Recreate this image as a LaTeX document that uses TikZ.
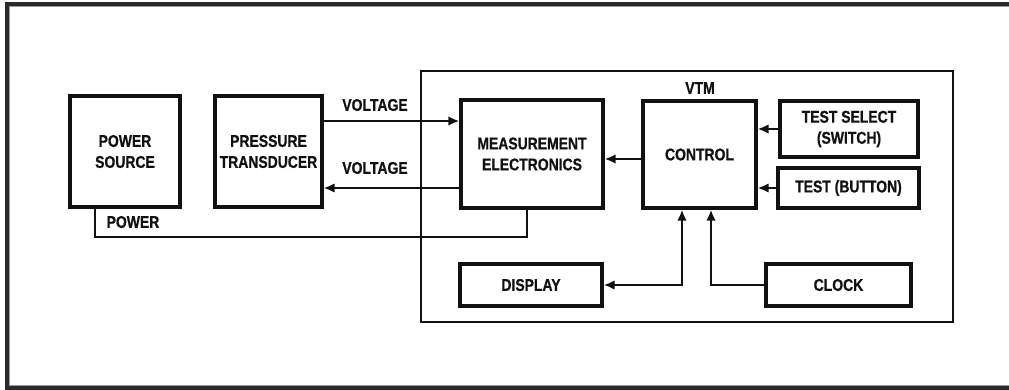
\documentclass[tikz,border=0pt]{standalone}
\usepackage{fontspec}
\setmainfont{Liberation Sans}[FakeStretch=0.82,BoldFeatures={FakeBold=0.7}]
\usetikzlibrary{arrows.meta}
\newcommand\dlabelfont{\fontsize{17}{21}\selectfont\bfseries}
\definecolor{framedark}{HTML}{2A2A2A}
\definecolor{framelight}{HTML}{9A9A9A}
\definecolor{ink}{HTML}{111111}
\begin{document}
\begin{tikzpicture}[x=1pt,y=-1pt,
  box/.style={draw=ink, line width=3.2pt, inner sep=0pt, align=center, font=\dlabelfont, text=ink},
  lbl/.style={inner sep=0pt, font=\dlabelfont, text=ink},
  wire/.style={draw=ink, line width=2.3pt},
  arr/.style={wire, -{Latex[length=11pt,width=9.5pt]}},
  arrboth/.style={wire, {Latex[length=11pt,width=9.5pt]}-{Latex[length=11pt,width=9.5pt]}}]
\useasboundingbox (0,0) rectangle (1009,389);
% outer frame
\draw[framelight, line width=1pt] (1012,6.5) -- (9.5,6.5) -- (9.5,385) -- (1012,385);
\draw[framedark, line width=4pt] (1012,4) -- (7,4) -- (7,387.5) -- (1012,387.5);
% VTM enclosure
\node[draw=ink, line width=2.2pt, minimum width=532pt, minimum height=251pt, inner sep=0pt] (vtm) at (687,196.5) {};
\node[lbl] (vtmlabel) at (700,88) {VTM};
% blocks
\node[box, minimum width=110pt, minimum height=111pt] (ps) at (125,151.5) {POWER\\SOURCE};
\node[box, minimum width=107pt, minimum height=111pt] (pt) at (268.5,151.5) {PRESSURE\\TRANSDUCER};
\node[box, minimum width=142pt, minimum height=108pt] (me) at (532,154) {MEASUREMENT\\ELECTRONICS};
\node[box, minimum width=113pt, minimum height=107pt] (ctl) at (699.5,154.5) {CONTROL};
\node[box, minimum width=138pt, minimum height=56pt] (ts) at (849,129) {TEST SELECT\\(SWITCH)};
\node[box, minimum width=141pt, minimum height=40pt] (tb) at (848.5,188) {TEST (BUTTON)};
\node[box, minimum width=142pt, minimum height=42pt] (disp) at (531,285) {DISPLAY};
\node[box, minimum width=145pt, minimum height=42pt] (clk) at (838.5,285) {CLOCK};
% labels
\node[lbl] (v1) at (375,105) {VOLTAGE};
\node[lbl] (v2) at (375,168) {VOLTAGE};
\node[lbl] (pw) at (133,222) {POWER};
% helper coordinates
\coordinate (vin) at (0,121);
\coordinate (vout) at (0,188);
\coordinate (cme) at (0,159);
\coordinate (dx) at (682,0);
\coordinate (cx) at (711,0);
\coordinate (px) at (95,0);
\coordinate (mx) at (527,237);
% connectors
\draw[arr] (pt.east |- vin) -- (me.west |- vin);
\draw[arr] (me.west |- vout) -- (pt.east |- vout);
\draw[arr] (ctl.west |- cme) -- (me.east |- cme);
\draw[arr] (ts.west) -- (ctl.east |- ts.west);
\draw[arr] (tb.west) -- (ctl.east |- tb.west);
\draw[arrboth] (ctl.south -| dx) |- (disp.east);
\draw[arr] (clk.west) -| (ctl.south -| cx);
\draw[wire] (ps.south -| px) |- (mx) -- (me.south -| mx);
\end{tikzpicture}
\end{document}
